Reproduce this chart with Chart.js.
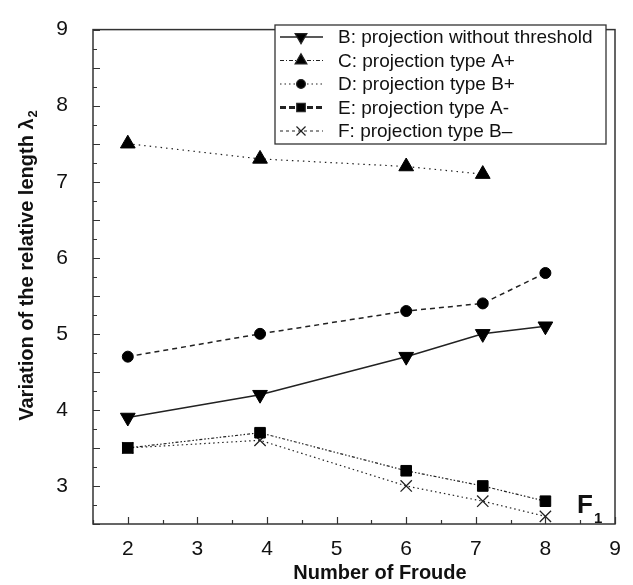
<!DOCTYPE html>
<html>
<head>
<meta charset="utf-8">
<script src="https://cdn.jsdelivr.net/npm/chart.js@4.4.1/dist/chart.umd.min.js"></script>
<style>
  html, body { margin: 0; padding: 0; background: #fff; }
  canvas { display: block; }
</style>
</head>
<body>
<canvas id="myChart" width="633" height="585"></canvas>
<script>
// Froude numbers (x) and relative length values per projection type
const froude = [2, 3.9, 6, 7.1, 8];
const seriesB = [3.9, 4.2, 4.7, 5.0, 5.1];
const seriesC = [7.5, 7.3, 7.2, 7.1];
const seriesD = [4.7, 5.0, 5.3, 5.4, 5.8];
const seriesE = [3.5, 3.7, 3.2, 3.0, 2.8];
const seriesF = [3.5, 3.6, 3.0, 2.8, 2.6];

const xTicks = [2, 3, 4, 5, 6, 7, 8, 9];
const yTicks = [3, 4, 5, 6, 7, 8, 9];

const seriesLabels = [
  'B: projection without threshold',
  'C: projection type A+',
  'D: projection type B+',
  'E: projection type A-',
  'F: projection type B–'
];

const FONT = '"Liberation Sans", Arial, sans-serif';
Chart.defaults.font.family = FONT;
Chart.defaults.color = '#111';

const toPoints = ys => ys.map((y, i) => ({ x: froude[i], y: y }));

// legend sample dashes (the legend shows slightly different patterns than the plot)
const legendDash = [[], [4, 2, 1, 2], [1.5, 3], [6, 3], [3, 3]];
const legendWidth = [1.5, 1.2, 1.2, 3, 1.2];

const frameTicks = {
  id: 'frameTicks',
  afterDraw(chart) {
    const ctx = chart.ctx;
    const a = chart.chartArea;
    const x = chart.scales.x, y = chart.scales.y;
    ctx.save();
    ctx.strokeStyle = '#333';
    ctx.lineWidth = 1.5;
    ctx.strokeRect(a.left, a.top, a.right - a.left, a.bottom - a.top);

    ctx.lineWidth = 1.2;
    ctx.beginPath();
    for (let v = x.min; v <= x.max + 1e-9; v += 0.5) {
      const px = Math.round(x.getPixelForValue(v)) + 0.5;
      const len = Math.abs(v - Math.round(v)) < 1e-9 ? 7 : 4;
      ctx.moveTo(px, a.bottom);
      ctx.lineTo(px, a.bottom - len);
    }
    for (let v = y.min; v <= y.max + 1e-9; v += 0.25) {
      const py = Math.round(y.getPixelForValue(v)) + 0.5;
      const len = Math.abs(v * 2 - Math.round(v * 2)) < 1e-9 ? 7 : 4;
      ctx.moveTo(a.left, py);
      ctx.lineTo(a.left + len, py);
    }
    ctx.stroke();

    // legend box
    const bx = 275, by = 25, bw = 331, bh = 119;
    ctx.lineWidth = 1.3;
    ctx.strokeStyle = '#333';
    ctx.fillStyle = '#fff';
    ctx.fillRect(bx, by, bw, bh);
    ctx.strokeRect(bx, by, bw, bh);
    chart.data.datasets.forEach((ds, i) => {
      const cy = 37 + i * 23.5;
      ctx.strokeStyle = '#222';
      ctx.lineWidth = legendWidth[i];
      ctx.setLineDash(legendDash[i]);
      ctx.beginPath();
      ctx.moveTo(280, cy);
      ctx.lineTo(323, cy);
      ctx.stroke();
      ctx.setLineDash([]);
      ctx.fillStyle = '#000';
      ctx.strokeStyle = '#222';
      ctx.lineWidth = 1.2;
      Chart.helpers.drawPoint(ctx, {
        pointStyle: ds.pointStyle,
        rotation: ds.pointRotation || 0,
        radius: ds.pointRadius * 0.8,
        borderWidth: 1
      }, 301, cy);
      ctx.fillStyle = '#111';
      ctx.font = '19px ' + FONT;
      ctx.textBaseline = 'middle';
      ctx.textAlign = 'left';
      ctx.fillText(ds.label, 338, cy + 1);
    });

    // F1 annotation
    ctx.fillStyle = '#111';
    ctx.textBaseline = 'alphabetic';
    ctx.font = 'bold 26px ' + FONT;
    ctx.fillText('F', 577, 513);
    ctx.font = 'bold 15px ' + FONT;
    ctx.fillText('1', 594, 523);

    // x title
    ctx.font = 'bold 20px ' + FONT;
    ctx.textAlign = 'center';
    ctx.fillText('Number of Froude', 380, 579);

    // y title with subscript
    ctx.save();
    ctx.translate(33, 266);
    ctx.rotate(-Math.PI / 2);
    const main = 'Variation of the relative length λ';
    ctx.font = 'bold 20px ' + FONT;
    const w1 = ctx.measureText(main).width;
    ctx.font = 'bold 13px ' + FONT;
    const w2 = ctx.measureText('2').width;
    const start = -(w1 + w2) / 2;
    ctx.textAlign = 'left';
    ctx.font = 'bold 20px ' + FONT;
    ctx.fillText(main, start, 0);
    ctx.font = 'bold 13px ' + FONT;
    ctx.fillText('2', start + w1 + 1, 4);
    ctx.restore();

    ctx.restore();
  }
};

const data = {
  datasets: [{
    label: seriesLabels[0],
    data: toPoints(seriesB),
    borderColor: '#222',
    borderWidth: 1.5,
    pointStyle: 'triangle',
    pointRotation: 180,
    pointRadius: 8.5,
    pointBackgroundColor: '#000',
    pointBorderColor: '#000',
    pointBorderWidth: 1
  }, {
    label: seriesLabels[1],
    data: toPoints(seriesC),
    borderColor: '#222',
    borderWidth: 1.2,
    borderDash: [1.5, 4],
    pointStyle: 'triangle',
    pointRadius: 8.5,
    pointBackgroundColor: '#000',
    pointBorderColor: '#000',
    pointBorderWidth: 1
  }, {
    label: seriesLabels[2],
    data: toPoints(seriesD),
    borderColor: '#222',
    borderWidth: 1.5,
    borderDash: [5, 4],
    pointStyle: 'circle',
    pointRadius: 5.5,
    pointBackgroundColor: '#000',
    pointBorderColor: '#000',
    pointBorderWidth: 1
  }, {
    label: seriesLabels[3],
    data: toPoints(seriesE),
    borderColor: '#222',
    borderWidth: 1.2,
    borderDash: [3, 2, 1.5, 2, 1.5, 2],
    pointStyle: 'rect',
    pointRadius: 7.5,
    pointBackgroundColor: '#000',
    pointBorderColor: '#000',
    pointBorderWidth: 1
  }, {
    label: seriesLabels[4],
    data: toPoints(seriesF),
    borderColor: '#222',
    borderWidth: 1.2,
    borderDash: [1.5, 3],
    pointStyle: 'crossRot',
    pointRadius: 8,
    pointBackgroundColor: '#000',
    pointBorderColor: '#222',
    pointBorderWidth: 1.3
  }]
};

const config = {
  type: 'line',
  data: data,
  options: {
    responsive: false,
    animation: false,
    layout: { padding: { top: 19, right: 18, left: 0, bottom: 0 } },
    plugins: {
      legend: { display: false },
      tooltip: { enabled: false }
    },
    scales: {
      x: {
        type: 'linear',
        min: 1.5,
        max: 9,
        afterBuildTicks: s => { s.ticks = xTicks.map(v => ({ value: v })); },
        afterFit: s => { s.height = 61; },
        grid: { display: false },
        border: { display: false },
        ticks: {
          font: { size: 21 },
          color: '#111',
          padding: 5,
          maxRotation: 0,
          autoSkip: false
        }
      },
      y: {
        type: 'linear',
        min: 2.5,
        max: 9,
        afterBuildTicks: s => { s.ticks = yTicks.map(v => ({ value: v })); },
        afterFit: s => { s.width = 93; },
        grid: { display: false },
        border: { display: false },
        ticks: {
          font: { size: 21 },
          color: '#111',
          padding: 17,
          autoSkip: false
        }
      }
    }
  },
  plugins: [frameTicks]
};

const myChart = new Chart(
  document.getElementById('myChart'),
  config
);
</script>
</body>
</html>
